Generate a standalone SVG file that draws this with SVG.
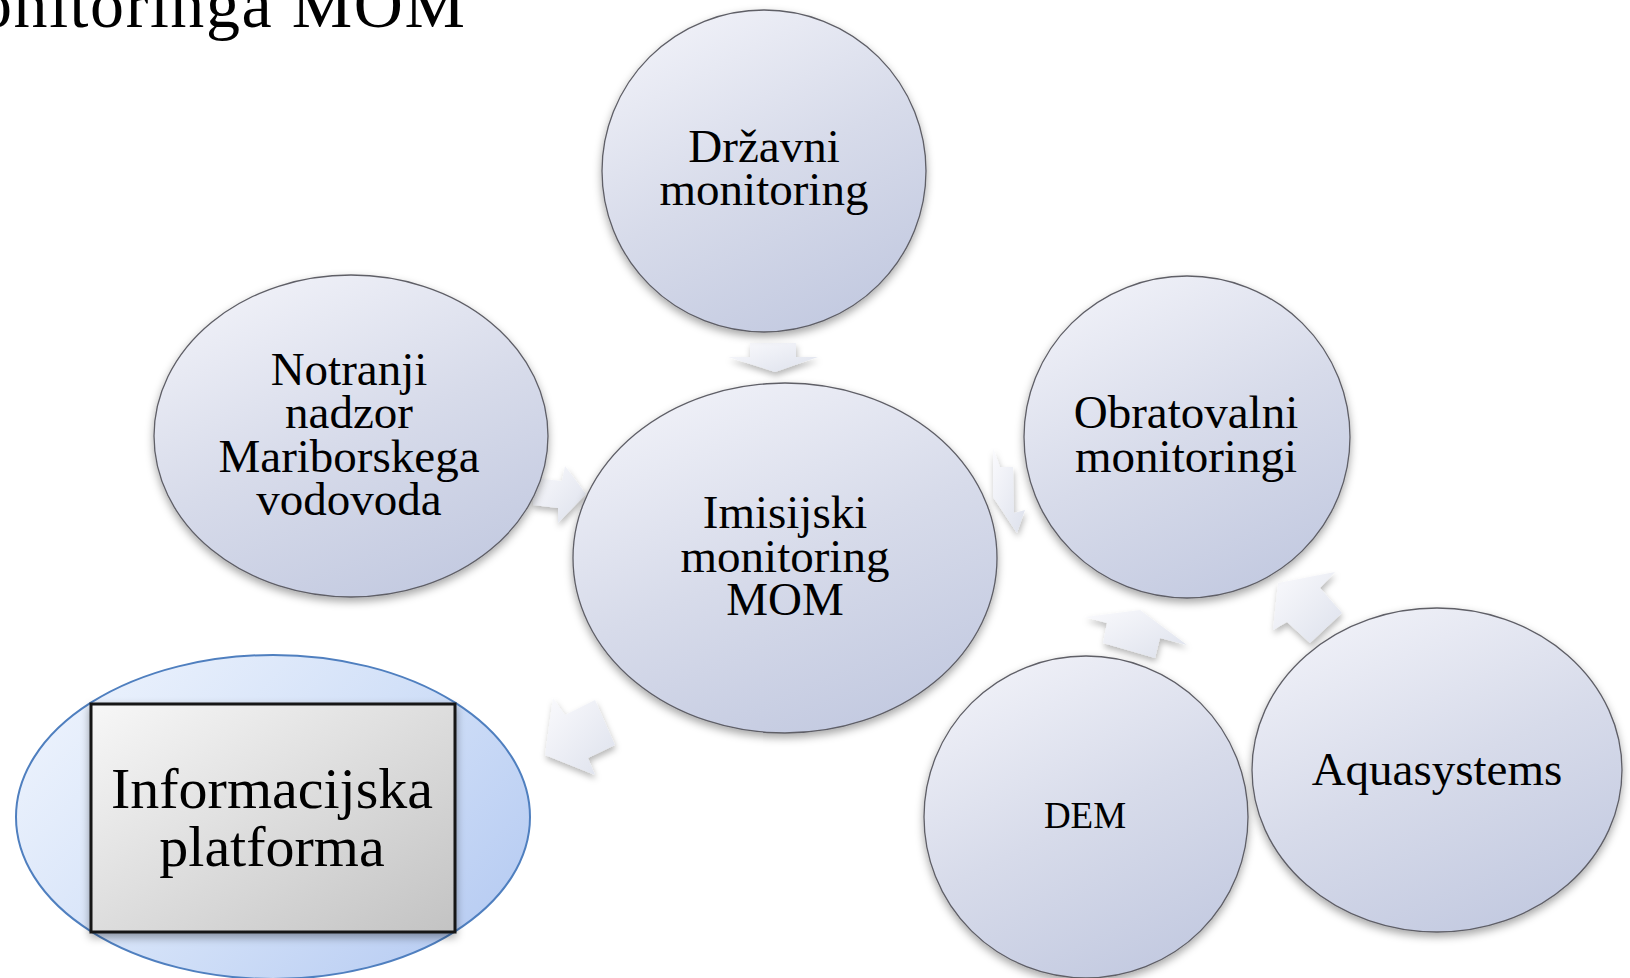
<svg xmlns="http://www.w3.org/2000/svg" width="1630" height="978" viewBox="0 0 1630 978">
<style>
.node{fill:url(#gNode);stroke:#5e5e66;stroke-width:1.3;filter:url(#sh)}
.arr{fill:url(#gArr);filter:url(#shA)}
.t{font-family:"Liberation Serif","Times New Roman",serif;font-size:47px;fill:#000;text-anchor:middle}
.dem{font-size:37px}
.big{font-size:58px}
</style>
<defs>
<linearGradient id="gNode" x1="0.25" y1="0" x2="0.75" y2="1">
<stop offset="0" stop-color="#f0f1f8"/>
<stop offset="0.5" stop-color="#d7dbea"/>
<stop offset="1" stop-color="#c2c9e0"/>
</linearGradient>
<linearGradient id="gArr" x1="0" y1="0" x2="1" y2="1">
<stop offset="0" stop-color="#fafafd"/>
<stop offset="1" stop-color="#dde1ec"/>
</linearGradient>
<linearGradient id="gBlue" x1="0" y1="0.2" x2="1" y2="0.8">
<stop offset="0" stop-color="#edf3fd"/>
<stop offset="0.5" stop-color="#d3e1f8"/>
<stop offset="1" stop-color="#b6cbf2"/>
</linearGradient>
<linearGradient id="gRect" x1="0" y1="0" x2="1" y2="1">
<stop offset="0" stop-color="#f7f7f7"/>
<stop offset="1" stop-color="#c3c3c3"/>
</linearGradient>
<filter id="sh" x="-10%" y="-10%" width="120%" height="125%">
<feDropShadow dx="0" dy="4" stdDeviation="4" flood-color="#000" flood-opacity="0.35"/>
</filter>
<filter id="shA" x="-30%" y="-30%" width="160%" height="160%">
<feDropShadow dx="1" dy="4" stdDeviation="3" flood-color="#000" flood-opacity="0.28"/>
</filter>
</defs>
<rect width="1630" height="978" fill="#fff"/>
<text x="-22" y="27" font-family="Liberation Serif,'Times New Roman',serif" font-size="68" textLength="487" lengthAdjust="spacing">onitoringa MOM</text>
<g id="connectors">
<polygon class="arr" points="750,343 796,343 796,357 818,357 775,372 728,357 750,357"/>
<polygon class="arr" points="533,478 562,481 565,466 586,494 558,523 558,508 533,505"/>
<polygon class="arr" points="553,698 565,715 595,700 615,745 588,758 595,775 545,755"/>
<polygon class="arr" points="993,448 1000,467 1013,467 1014,513 1025,510 1017,533 993,497"/>
<polygon class="arr" points="1140,610 1085,617 1107,623 1103,643 1155,658 1160,638 1187,645"/>
<polygon class="arr" points="1278,583 1273,630 1287,622 1310,643 1342,613 1320,588 1335,572"/>
</g>
<g id="node-drzavni">
<ellipse class="node" cx="764" cy="171" rx="162" ry="161"/>
<text class="t" x="764" y="162">Državni</text>
<text class="t" x="764" y="205">monitoring</text>
</g>
<g id="node-notranji">
<ellipse class="node" cx="351" cy="436" rx="197" ry="161"/>
<text class="t" x="349" y="385">Notranji</text>
<text class="t" x="349" y="428">nadzor</text>
<text class="t" x="349" y="472">Mariborskega</text>
<text class="t" x="349" y="515">vodovoda</text>
</g>
<g id="node-imisijski">
<ellipse class="node" cx="785" cy="558" rx="212" ry="175"/>
<text class="t" x="785" y="528">Imisijski</text>
<text class="t" x="785" y="572">monitoring</text>
<text class="t" x="785" y="615">MOM</text>
</g>
<g id="node-obratovalni">
<ellipse class="node" cx="1187" cy="437" rx="163" ry="161"/>
<text class="t" x="1186" y="428">Obratovalni</text>
<text class="t" x="1186" y="472">monitoringi</text>
</g>
<g id="node-dem">
<ellipse class="node" cx="1086" cy="817" rx="162" ry="161"/>
<text class="t dem" x="1085" y="828">DEM</text>
</g>
<g id="node-aquasystems">
<ellipse class="node" cx="1437" cy="770" rx="185" ry="162"/>
<text class="t" x="1437" y="785">Aquasystems</text>
</g>
<g id="node-informacijska">
<ellipse cx="273" cy="817" rx="257" ry="162" fill="url(#gBlue)" stroke="#4f7fbf" stroke-width="2"/>
<rect x="91" y="704" width="364" height="228" fill="url(#gRect)" stroke="#141414" stroke-width="3" filter="url(#sh)"/>
<text class="t big" x="272" y="808">Informacijska</text>
<text class="t big" x="272" y="866">platforma</text>
</g>
</svg>
